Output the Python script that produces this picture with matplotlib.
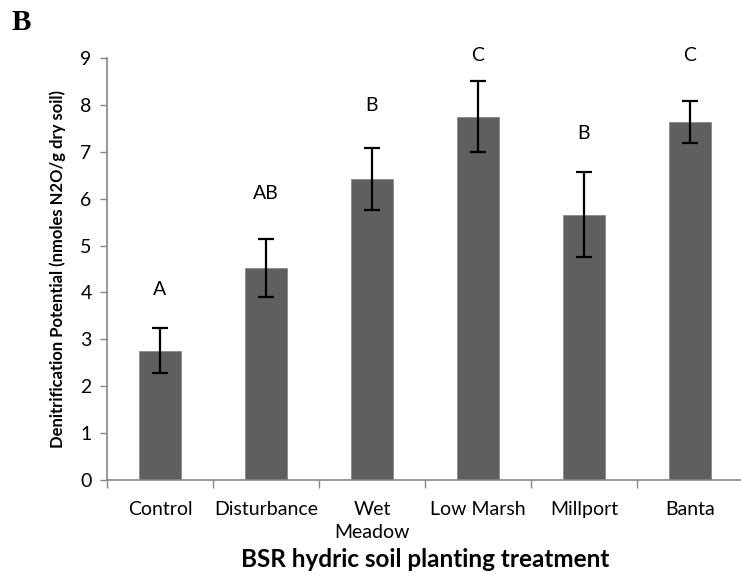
import matplotlib
matplotlib.use('Agg')
import matplotlib.pyplot as plt
import numpy as np

# %% Data
categories = ['Control', 'Disturbance', 'Wet\nMeadow', 'Low Marsh', 'Millport', 'Banta']
means = [2.76, 4.52, 6.41, 7.75, 5.66, 7.63]
errs = [0.48, 0.62, 0.66, 0.76, 0.91, 0.45]
letters = ['A', 'AB', 'B', 'C', 'B', 'C']
letter_y = [4.07, 6.1, 7.98, 9.06, 7.4, 9.06]
y_ticks = list(range(0, 10))

# %% Plot
plt.rcParams['font.family'] = ['Lato', 'DejaVu Sans']
fig = plt.figure(figsize=(7.41, 5.81), dpi=100)
ax = fig.add_axes([0.1444, 0.1738, 0.858, 0.7264])

x = np.arange(len(categories))
ax.bar(x, means, width=0.4, color='#5f5f5f', edgecolor='#8a8a8a', linewidth=0.6, zorder=2)
ax.errorbar(x, means, yerr=errs, fmt='none', ecolor='black', elinewidth=1.6,
            capsize=6, capthick=1.6, zorder=3)

for xi, lab, ly in zip(x, letters, letter_y):
    ax.text(xi, ly, lab, ha='center', va='center', fontsize=14, clip_on=False)

ax.set_xlim(-0.5, len(categories) - 0.5)
ax.set_ylim(0, 9)
ax.set_yticks(y_ticks)
ax.tick_params(axis='y', labelsize=14, length=5, color='#868686', width=1, pad=6)

ax.set_xticks(x)
ax.set_xticklabels(categories, fontsize=14, linespacing=1.45, va='top')
ax.set_xticks(np.arange(-0.5, len(categories), 1.0), minor=True)
ax.tick_params(axis='x', which='major', length=0, pad=15)
ax.tick_params(axis='x', which='minor', length=6, color='#868686', width=1)

for s in ['top', 'right']:
    ax.spines[s].set_visible(False)
for s in ['left', 'bottom']:
    ax.spines[s].set_color('#868686')
    ax.spines[s].set_linewidth(1.2)

ax.set_ylabel('Denitrification Potential (nmoles N2O/g dry soil)', fontsize=12,
              fontweight='bold', labelpad=10)
ax.set_xlabel('BSR hydric soil planting treatment', fontsize=17.5, fontweight='bold',
              labelpad=5)

fig.text(0.016, 0.962, 'B', fontsize=21, fontweight='bold', family='Liberation Serif',
         ha='left', va='center')

fig.savefig('out.png', dpi=100)
